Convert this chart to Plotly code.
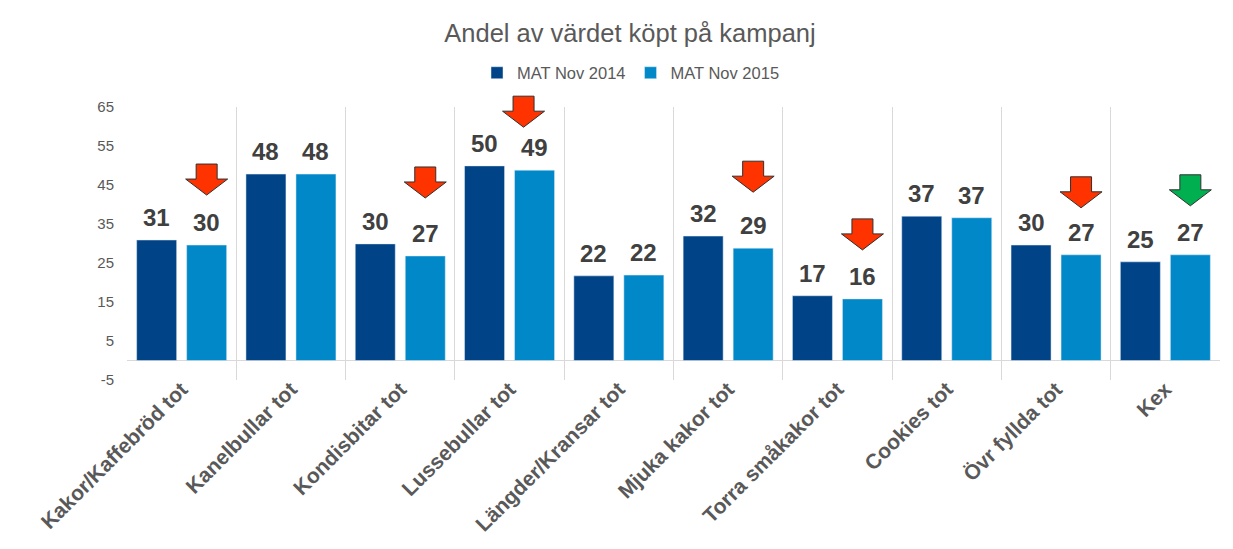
import plotly.graph_objects as go

categories = ["Kakor/Kaffebröd tot", "Kanelbullar tot", "Kondisbitar tot", "Lussebullar tot",
              "Längder/Kransar tot", "Mjuka kakor tot", "Torra småkakor tot", "Cookies tot",
              "Övr fyllda tot", "Kex"]
series_names = ["MAT Nov 2014", "MAT Nov 2015"]
mat_2014 = [30.9, 47.8, 29.9, 49.9, 21.7, 31.9, 16.6, 37.0, 29.6, 25.3]
mat_2015 = [29.6, 47.8, 26.8, 48.8, 21.9, 28.8, 15.8, 36.6, 27.1, 27.1]
arrow_color = ["#FF3300", None, "#FF3300", "#FF3300", None, "#FF3300", "#FF3300", None, "#FF3300", "#00B050"]
y_ticks = [-5, 5, 15, 25, 35, 45, 55, 65]
y_ticktext = ["-5", "5", "15", "25", "35", "45", "55", "65"]

# ---- styling ----
C14 = "#004387"
C15 = "#0088C9"
FONT = "Liberation Sans, Arial, sans-serif"
BARGAP = 0.085
OFF = (1 - BARGAP) / 4
YMIN, YMAX = -5, 65
# arrow placement (pixels): tip height above the 2015 bar, horizontal nudge
ARROW_LIFT = {"Kakor/Kaffebröd tot": 50, "Kondisbitar tot": 58, "Lussebullar tot": 43,
              "Mjuka kakor tot": 56, "Torra småkakor tot": 49, "Övr fyllda tot": 47, "Kex": 49}
ARROW_DX = {"Lussebullar tot": -11}

# page has an 8px body margin; figure sized to fill the visible window
W, H = 1225, 541
ML, MR, MT, MB = 119, 13, 99, 169
PW = W - ML - MR
PH = H - MT - MB

idx = list(range(len(categories)))

fig = go.Figure()
fig.add_trace(go.Bar(x=idx, y=mat_2014, name=series_names[0], marker_color=C14))
fig.add_trace(go.Bar(x=idx, y=mat_2015, name=series_names[1], marker_color=C15))

annotations = []
for i in idx:
    for v, dx in ((mat_2014[i], -OFF), (mat_2015[i], OFF)):
        annotations.append(dict(x=i + dx, y=v, xref="x", yref="y", text=f"{v:.0f}",
                                showarrow=False, yanchor="bottom", yshift=7,
                                font=dict(family=FONT, size=24, color="#404040", weight="bold")))


def arrow_path(lift, dx):
    tip, neck, top = lift, lift + 16, lift + 31
    pts = [(-10.5, top), (10.5, top), (10.5, neck), (21, neck), (0, tip), (-21, neck), (-10.5, neck)]
    return "M " + " L ".join(f"{x + dx},{y}" for x, y in pts) + " Z"


shapes = []
for i in idx:
    if arrow_color[i]:
        cat = categories[i]
        shapes.append(dict(type="path", xref="x", yref="paper",
                           xsizemode="pixel", ysizemode="pixel",
                           xanchor=i + OFF, yanchor=(mat_2015[i] - YMIN) / (YMAX - YMIN),
                           path=arrow_path(ARROW_LIFT.get(cat, 50), ARROW_DX.get(cat, 0)),
                           fillcolor=arrow_color[i],
                           line=dict(color="#303030", width=1), layer="above"))

fig.update_layout(
    width=W, height=H,
    margin=dict(l=ML, r=MR, t=MT, b=MB, autoexpand=False),
    paper_bgcolor="white", plot_bgcolor="white",
    barmode="group", bargap=BARGAP, bargroupgap=0.2,
    title=dict(text="Andel av värdet köpt på kampanj", xref="paper", x=(622 - ML) / PW,
               xanchor="center", y=1 - 25 / H, yanchor="middle",
               font=dict(family=FONT, size=25.5, color="#595959")),
    legend=dict(orientation="h", x=(623 - ML) / PW, xanchor="center", y=1 + 34 / PH, yanchor="middle",
                font=dict(family=FONT, size=16.5, color="#595959"), itemwidth=30,
                bgcolor="rgba(0,0,0,0)"),
    showlegend=True,
    annotations=annotations,
    shapes=shapes,
)
fig.update_xaxes(range=[-0.5, len(categories) - 0.5], tickmode="array", tickvals=idx,
                 ticktext=categories, tickangle=-45, showgrid=False, zeroline=False,
                 showline=False, ticks="", automargin=False, ticklabelstandoff=-8,
                 tickfont=dict(family=FONT, size=21, color="#595959", weight="bold"),
                 minor=dict(tickmode="array", tickvals=[i - 0.5 for i in range(len(categories) + 1)],
                            showgrid=True, gridcolor="#D9D9D9", gridwidth=1, ticks=""))
fig.update_yaxes(range=[YMIN, YMAX], tickmode="array", tickvals=y_ticks, ticktext=y_ticktext,
                 showgrid=False, automargin=False,
                 zeroline=True, zerolinecolor="#D9D9D9", zerolinewidth=1, showline=False,
                 ticklabelstandoff=12,
                 tickfont=dict(family=FONT, size=15, color="#595959"))

fig.write_html("out.html")
